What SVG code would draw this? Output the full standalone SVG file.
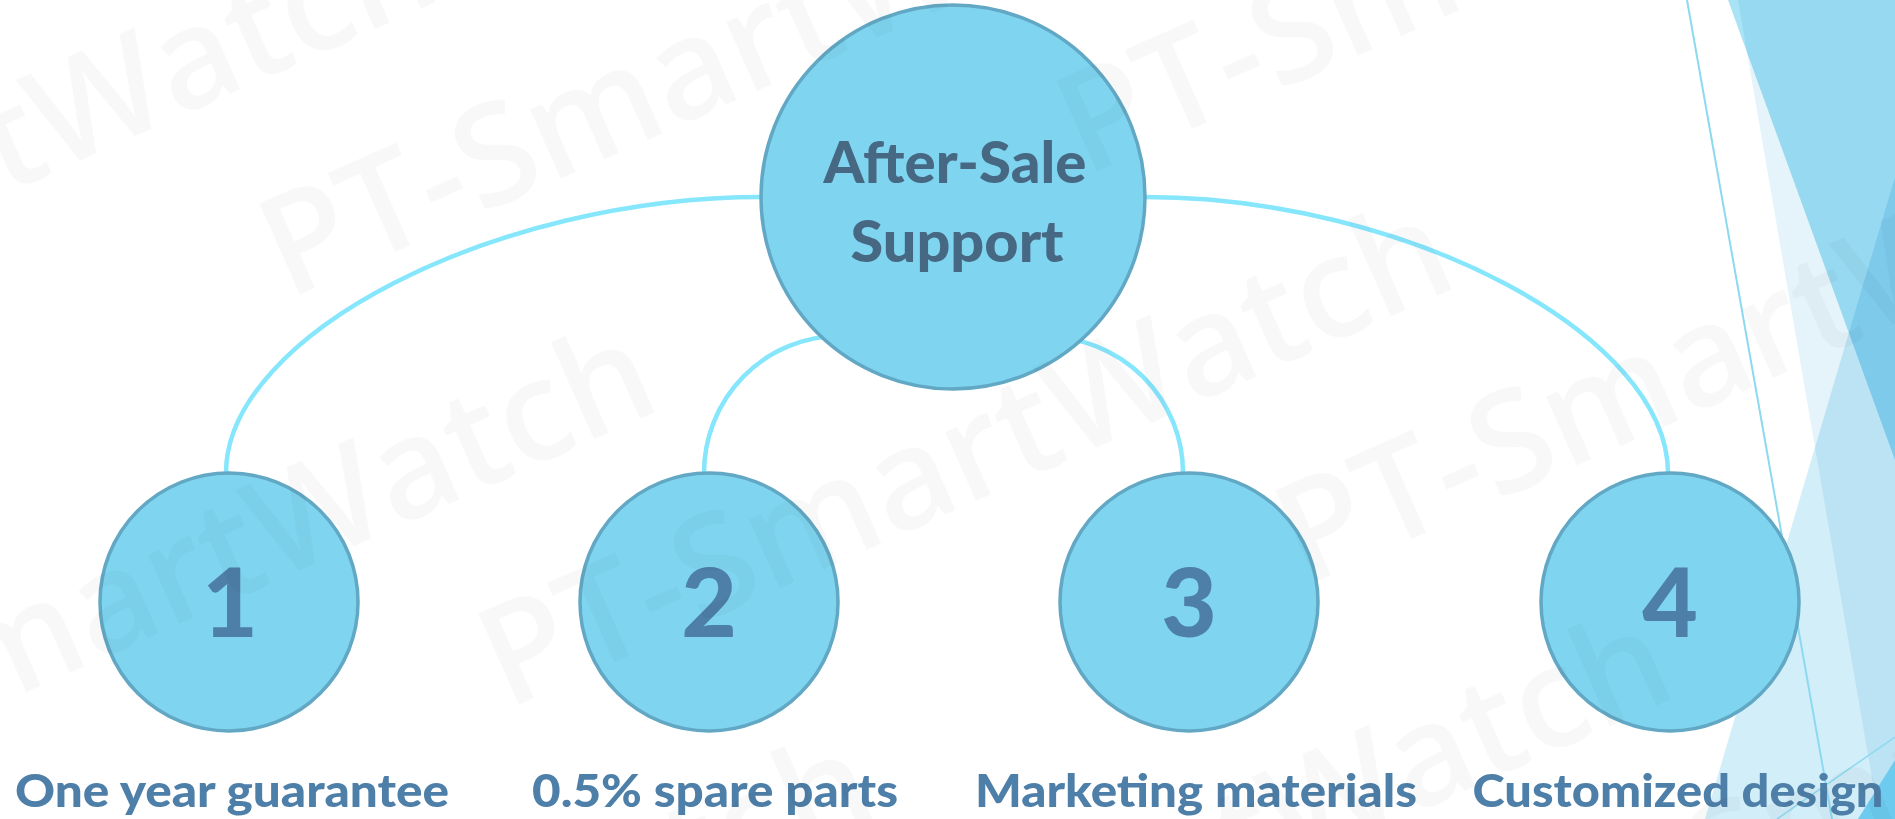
<svg xmlns="http://www.w3.org/2000/svg" width="1895" height="819" viewBox="0 0 1895 819">
<defs>
<style>
.bg-tri{mix-blend-mode:multiply;}
.thin{stroke:#8cd9f0;fill:none;}
.conn{fill:none;stroke:#86e6fc;stroke-width:4.5;}
.circ{fill:#7fd5f0;stroke:#62a8c4;stroke-width:3.5;}
.title{font-family:Lato,"Open Sans",sans-serif;font-weight:900;font-size:57px;fill:#476883;text-anchor:middle;}
.num{font-family:Lato,"Open Sans",sans-serif;font-weight:900;font-size:96px;fill:#4e7fa8;text-anchor:middle;}
.lbl{font-family:Lato,"Open Sans",sans-serif;font-weight:900;font-size:45px;fill:#4e7fa8;text-anchor:middle;}
.wm{font-family:"Open Sans",sans-serif;font-weight:600;font-size:140px;fill:#000;fill-opacity:0.027;}
</style>
</defs>
<rect x="0" y="0" width="1895" height="819" fill="#ffffff"/>
<g id="background">
<polygon class="bg-tri" points="1738,0 1895,0 1895,819 1879,819" fill="#e4f4fa"/>
<polygon class="bg-tri" points="1895,177 1895,819 1705,819" fill="#d2eef9"/>
<polygon class="bg-tri" points="1728,0 1895,0 1895,460" fill="#a9e3f6"/>
<polygon points="1858,819 1895,760 1895,819" fill="#6ccbee"/>
<line class="thin" x1="1687" y1="0" x2="1832" y2="819" stroke-width="2"/>
<line class="thin" x1="1777" y1="819" x2="1895" y2="737" stroke-width="1.5"/>
</g>
<g id="connectors">
<path class="conn" d="M 762,197 C 494,197 226,335 226,473"/>
<path class="conn" d="M 1145,197 C 1406,197 1668,335 1668,473"/>
<path class="conn" d="M 840,336 A 136,137 0 0 0 704,473"/>
<path class="conn" d="M 1047,337 A 136,136 0 0 1 1183,473"/>
</g>
<g id="node-main">
<circle class="circ" cx="953" cy="197" r="192"/>
<text class="title" x="955" y="183" textLength="263" lengthAdjust="spacingAndGlyphs">After-Sale</text>
<text class="title" x="957" y="262" textLength="213" lengthAdjust="spacingAndGlyphs">Support</text>
</g>
<g id="node-1">
<circle class="circ" cx="229" cy="602" r="129"/>
<text class="num" x="230" y="637">1</text>
<text class="lbl" x="232" y="807" textLength="434" lengthAdjust="spacingAndGlyphs">One year guarantee</text>
</g>
<g id="node-2">
<circle class="circ" cx="709" cy="602" r="129"/>
<text class="num" x="709" y="637">2</text>
<text class="lbl" x="715" y="807" textLength="366" lengthAdjust="spacingAndGlyphs">0.5% spare parts</text>
</g>
<g id="node-3">
<circle class="circ" cx="1189" cy="602" r="129"/>
<text class="num" x="1189" y="637">3</text>
<text class="lbl" x="1196" y="807" textLength="442" lengthAdjust="spacingAndGlyphs">Marketing materials</text>
</g>
<g id="node-4">
<circle class="circ" cx="1670" cy="602" r="129"/>
<text class="num" x="1670" y="637">4</text>
<text class="lbl" x="1678" y="807" textLength="411" lengthAdjust="spacingAndGlyphs">Customized design</text>
</g>
<g id="watermark">
<text class="wm" transform="translate(288,300) rotate(-24)">PT-SmartWatch</text>
<text class="wm" transform="translate(-509,423) rotate(-24)">PT-SmartWatch</text>
<text class="wm" transform="translate(-290,833) rotate(-24)">PT-SmartWatch</text>
<text class="wm" transform="translate(507,710) rotate(-24)">PT-SmartWatch</text>
<text class="wm" transform="translate(726,1120) rotate(-24)">PT-SmartWatch</text>
<text class="wm" transform="translate(-71,1243) rotate(-24)">PT-SmartWatch</text>
<text class="wm" transform="translate(1085,177) rotate(-24)">PT-SmartWatch</text>
<text class="wm" transform="translate(1304,587) rotate(-24)">PT-SmartWatch</text>
<text class="wm" transform="translate(1523,997) rotate(-24)">PT-SmartWatch</text>
</g>
</svg>
